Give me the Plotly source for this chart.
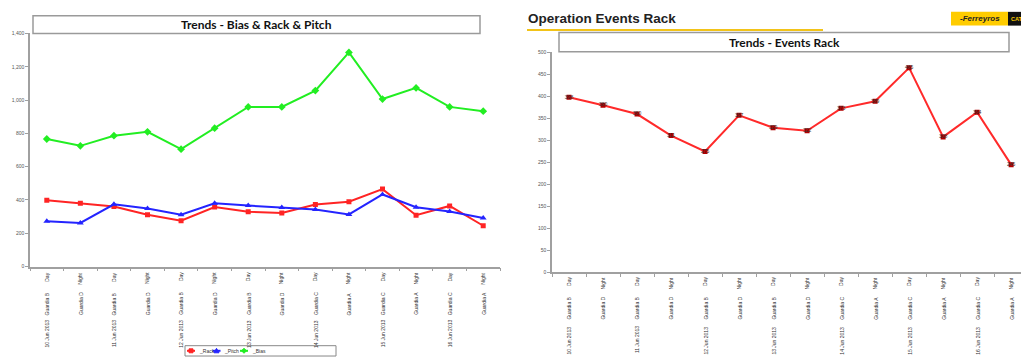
import plotly.graph_objects as go

# Shift calendar shared by both charts
dates = ["10 Jun 2013", "", "11 Jun 2013", "", "12 Jun 2013", "", "13 Jun 2013", "",
         "14 Jun 2013", "", "15 Jun 2013", "", "16 Jun 2013", ""]
guards = ["Guardia B", "Guardia D", "Guardia B", "Guardia D", "Guardia B", "Guardia D",
          "Guardia B", "Guardia D", "Guardia C", "Guardia A", "Guardia C", "Guardia A",
          "Guardia C", "Guardia A"]
shifts = ["Day", "Night"] * 7
categories = [f"{d}|{g}|{s}|{i}" for i, (d, g, s) in enumerate(zip(dates, guards, shifts))]

# Series values
rack = [398, 380, 360, 311, 275, 357, 329, 322, 373, 389, 465, 308, 364, 245]
pitch = [272, 262, 374, 349, 311, 380, 366, 354, 343, 313, 433, 356, 331, 291]
bias = [766, 725, 786, 809, 705, 831, 959, 959, 1057, 1286, 1006, 1073, 959, 933]
events_rack = rack

left_y_ticks = [0, 200, 400, 600, 800, 1000, 1200, 1400]
right_y_ticks = [0, 50, 100, 150, 200, 250, 300, 350, 400, 450, 500]

series_names = ["_Rack", "_Pitch", "_Bias"]
series_colors = ["#ff2424", "#2424ff", "#22ee22"]
series_symbols = ["square", "triangle-up", "diamond"]

W, H = 1021, 360


def px(x):
    return x / W


def py(y):
    return 1 - y / H


fig = go.Figure()

for name, vals, color, sym in zip(series_names, [rack, pitch, bias], series_colors, series_symbols):
    fig.add_trace(go.Scatter(
        x=categories, y=vals, name=name, mode="lines+markers",
        line=dict(color=color, width=2),
        marker=dict(symbol=sym, size=6 if sym != "square" else 5, color=color),
        showlegend=False, xaxis="x", yaxis="y"))

fig.add_trace(go.Scatter(
    x=categories, y=events_rack, name="Events Rack", mode="lines+markers+text",
    text=[str(v) for v in events_rack], textposition="middle center",
    textfont=dict(size=5, color="#333333", family="Liberation Sans"),
    line=dict(color="#ff2a2a", width=2), marker=dict(symbol="square", size=5, color="#b00000"),
    showlegend=False, xaxis="x2", yaxis="y2"))

axis_common = dict(
    showline=True, linecolor="#a0a0a0", linewidth=1.5, showgrid=False, zeroline=False,
    ticks="outside", ticklen=3, tickcolor="#a0a0a0",
)

fig.update_layout(
    width=W, height=H, margin=dict(l=0, r=0, t=0, b=0),
    paper_bgcolor="white", plot_bgcolor="white",
    font=dict(family="Liberation Sans", color="#444444"),
    showlegend=False,
    xaxis=dict(axis_common, domain=[px(30), px(500)], type="category",
               categoryarray=categories, tickson="boundaries", showticklabels=False,
               range=[-0.5, 13.5], anchor="y"),
    yaxis=dict(axis_common, domain=[py(268), py(31)], range=[0, 1400],
               tickvals=left_y_ticks, tickformat=",d", tickfont=dict(size=5, color="#555555"),
               anchor="x"),
    xaxis2=dict(axis_common, domain=[px(552), 1.0], type="category",
                categoryarray=categories, tickson="boundaries", showticklabels=False,
                range=[-0.5, 13.29], anchor="y2"),
    yaxis2=dict(axis_common, domain=[py(274), py(50.3)], range=[0, 500],
                tickvals=right_y_ticks, tickfont=dict(size=5, color="#555555"),
                anchor="x2"),
)

shapes = []
annotations = []


def paper_text(text, x, y, size, family="Liberation Sans", color="#111111", xanchor="center"):
    annotations.append(dict(text=text, xref="paper", yref="paper", x=px(x), y=py(y),
                            xanchor=xanchor, yanchor="middle", showarrow=False,
                            font=dict(family=family, size=size, color=color)))


# Title boxes
shapes.append(dict(type="rect", xref="paper", yref="paper",
                   x0=px(33), x1=px(480), y0=py(31), y1=py(13),
                   line=dict(color="#9a9a9a", width=1.5), fillcolor="white", layer="below"))
paper_text("<b>Trends - Bias & Rack & Pitch</b>", 256.5, 22, 12, family="Lato")
shapes.append(dict(type="rect", xref="paper", yref="paper",
                   x0=px(559), x1=px(1009), y0=py(49.5), y1=py(30),
                   line=dict(color="#9a9a9a", width=1.5), fillcolor="white", layer="below"))
paper_text("<b>Trends - Events Rack</b>", 784, 40, 12, family="Lato")

# Page heading with its underline
paper_text("<b>Operation Events Rack</b>", 526, 16, 13.5, color="#222222", xanchor="left")
shapes.append(dict(type="line", xref="paper", yref="paper",
                   x0=px(527), x1=px(823), y0=py(27.5), y1=py(27.5),
                   line=dict(color="#f2c318", width=2)))

# Brand badge
shapes.append(dict(type="rect", xref="paper", yref="paper",
                   x0=px(951), x1=px(1008), y0=py(23), y1=py(9),
                   line=dict(width=0), fillcolor="#ffcc00"))
shapes.append(dict(type="rect", xref="paper", yref="paper",
                   x0=px(1008), x1=1.0, y0=py(23), y1=py(9),
                   line=dict(width=0), fillcolor="#111111"))
paper_text("<b><i>-Ferreyros</i></b>", 979.5, 16, 8, color="#222222")
paper_text("<b>CAT</b>", 1008.5, 16, 5.5, color="#ffcc00", xanchor="left")

# Compact legend under the left chart
shapes.append(dict(type="rect", xref="paper", yref="paper",
                   x0=px(185), x1=px(336), y0=py(359), y1=py(348.5),
                   line=dict(color="#888888", width=1), fillcolor="white"))
leg_y = 353.7
leg_items = [(187, 197), (212.5, 222), (240, 250)]
for (x0, tx), name, color, sym in zip(leg_items, series_names, series_colors, series_symbols):
    shapes.append(dict(type="line", xref="paper", yref="paper",
                       x0=px(x0), x1=px(x0 + 8), y0=py(leg_y), y1=py(leg_y),
                       line=dict(color=color, width=2)))
    cx = x0 + 4
    if sym == "square":
        path = f"M{px(cx-2)},{py(leg_y-2)} L{px(cx+2)},{py(leg_y-2)} L{px(cx+2)},{py(leg_y+2)} L{px(cx-2)},{py(leg_y+2)} Z"
    elif sym == "triangle-up":
        path = f"M{px(cx)},{py(leg_y-2.5)} L{px(cx+2.5)},{py(leg_y+2)} L{px(cx-2.5)},{py(leg_y+2)} Z"
    else:
        path = f"M{px(cx)},{py(leg_y-2.5)} L{px(cx+2.5)},{py(leg_y)} L{px(cx)},{py(leg_y+2.5)} L{px(cx-2.5)},{py(leg_y)} Z"
    shapes.append(dict(type="path", xref="paper", yref="paper", path=path,
                       line=dict(color=color, width=1), fillcolor=color))
    paper_text(name, tx, leg_y, 5, color="#333333", xanchor="left")

# Rotated three-row category labels under each chart
label_font = dict(family="Liberation Sans", size=5, color="#333333")
rows = {
    "x": (py(272), py(292), py(320)),
    "x2": (py(277), py(297), py(327)),
}
for xref, (y_shift, y_guard, y_date) in rows.items():
    for cat, d, g, s in zip(categories, dates, guards, shifts):
        for text, ypos in ((s, y_shift), (g, y_guard), (d, y_date)):
            if not text:
                continue
            annotations.append(dict(text=text, xref=xref, yref="paper", x=cat, y=ypos,
                                    xanchor="center", yanchor="top", textangle=-90,
                                    showarrow=False, font=label_font))

fig.update_layout(shapes=shapes, annotations=annotations)

fig.write_html("out.html")
